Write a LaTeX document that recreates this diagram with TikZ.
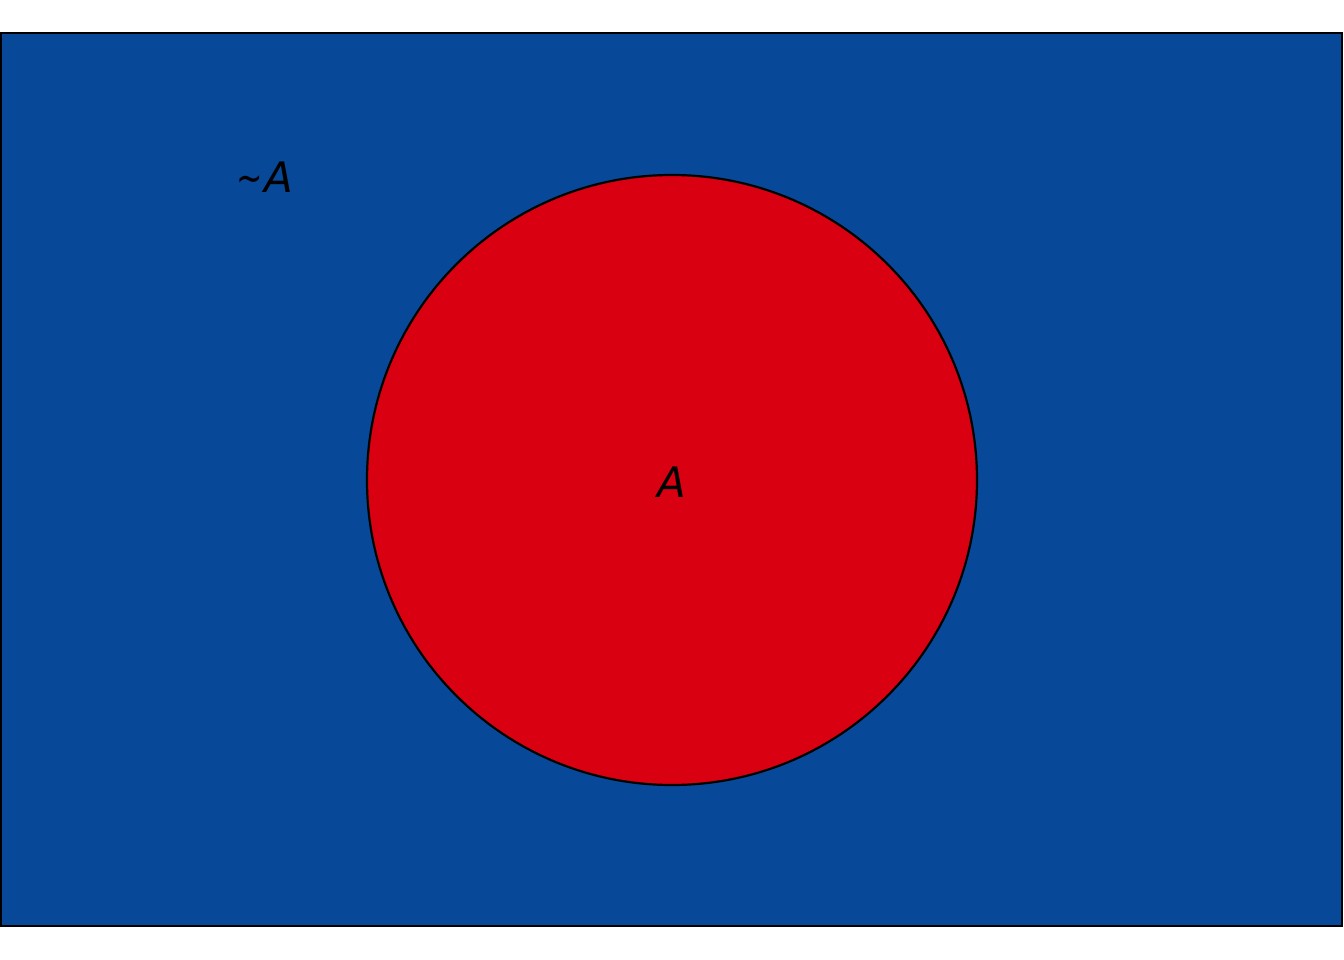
\documentclass[tikz,border=0pt]{standalone}
\usepackage{fontspec}
\usepackage{graphicx}
\setmainfont{DejaVu Sans}
\definecolor{setblue}{RGB}{8,72,152}
\definecolor{setred}{RGB}{217,0,17}
\tikzset{
  lbl/.style={inner sep=0pt, font=\fontsize{42}{50}\selectfont\itshape},
  region/.style={draw=black, line width=2.2pt}
}
\begin{document}
\begin{tikzpicture}[x=1pt,y=-1pt]
\useasboundingbox (0,0) rectangle (1344,960);
\fill[white] (0,0) rectangle (1344,960);
\draw[region, fill=setblue] (1,33) rectangle (1342,926);
\draw[region, fill=setred] (672,480) circle[radius=305];
\node[lbl] (notA) at (265,177) {\scalebox{0.75}[1]{\char"007E}\kern1pt A};
\node[lbl] (A) at (672,482) {A};
\end{tikzpicture}
\end{document}
